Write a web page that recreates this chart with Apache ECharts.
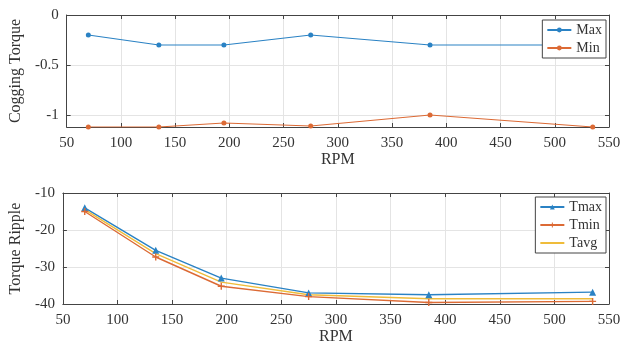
<!DOCTYPE html>
<html>
<head>
<meta charset="utf-8">
<script src="https://cdn.jsdelivr.net/npm/echarts@6/dist/echarts.min.js"></script>
<style>
  html, body { margin: 0; padding: 0; background: #fff; }
  #chart { width: 626px; height: 351px; }
</style>
</head>
<body>
<div id="chart"></div>
<script>
// RPM sample points (shared by both plots)
const rpm = [70, 135, 195, 275, 385, 535];

// cogging torque
const cogMax = [-0.2, -0.3, -0.3, -0.2, -0.3, -0.3];
const cogMin = [-1.12, -1.12, -1.08, -1.11, -1.0, -1.12];
const cogTicks = [-1, -0.5, 0];

// torque ripple
const tMax = [-14, -25.5, -33, -37, -37.5, -36.8];
const tMin = [-15, -27.3, -35.2, -38, -39.6, -39.3];
const tAvg = [-14.5, -26.4, -34.1, -37.5, -38.6, -38.6];

const font = 'Liberation Serif';
const ink = '#333';
const blue = '#2a82c4';
const orange = '#dc6a35';
const yellow = '#efbc3a';

const pairs = vals => vals.map((v, i) => [rpm[i], v]);
const plusPath = 'path://M4,0 L6,0 L6,4 L10,4 L10,6 L6,6 L6,10 L4,10 L4,6 L0,6 L0,4 L4,4 Z';

const grids = [
    { left: 61, right: 17, top: 15, height: 112 },
    { left: 61, right: 17, top: 193, height: 111 }
];

const xMain = gi => ({
    type: 'value', gridIndex: gi, min: 50, max: 550, interval: 50,
    name: 'RPM', nameLocation: 'middle', nameGap: 22,
    nameTextStyle: { fontFamily: font, fontSize: 16, color: ink },
    axisLine: { show: true, onZero: false, lineStyle: { color: '#444', width: 1 } },
    axisTick: { inside: true, length: 4, lineStyle: { color: '#444' } },
    axisLabel: { fontFamily: font, fontSize: 15, color: ink, margin: 9 },
    splitLine: { show: true, lineStyle: { color: '#e4e4e4' } }
});
const xTop = gi => ({
    type: 'value', gridIndex: gi, position: 'top', min: 50, max: 550, interval: 50,
    axisLine: { show: true, onZero: false, lineStyle: { color: '#444' } },
    axisTick: { inside: true, length: 4, lineStyle: { color: '#444' } },
    axisLabel: { show: false }, splitLine: { show: false }
});

const option = {
    animation: false,
    grid: grids,
    xAxis: [xMain(0), xTop(0), xMain(1), xTop(1)],
    yAxis: [
        {
            type: 'value', gridIndex: 0, min: -1.12, max: 0,
            name: 'Cogging Torque', nameLocation: 'middle', nameGap: 38,
            nameTextStyle: { fontFamily: font, fontSize: 16, color: ink },
            axisLine: { show: true, onZero: false, lineStyle: { color: '#444' } },
            axisTick: { inside: true, length: 4, customValues: cogTicks, lineStyle: { color: '#444' } },
            axisLabel: { fontFamily: font, fontSize: 15, color: ink, margin: 8, customValues: cogTicks },
            splitLine: { show: true, lineStyle: { color: '#e4e4e4' } }
        },
        {
            type: 'value', gridIndex: 0, position: 'right', min: -1.12, max: 0,
            axisLine: { show: true, onZero: false, lineStyle: { color: '#444' } },
            axisTick: { inside: true, length: 4, customValues: cogTicks, lineStyle: { color: '#444' } },
            axisLabel: { show: false, customValues: cogTicks }, splitLine: { show: false }
        },
        {
            type: 'value', gridIndex: 1, min: -40, max: -10, interval: 10,
            name: 'Torque Ripple', nameLocation: 'middle', nameGap: 38,
            nameTextStyle: { fontFamily: font, fontSize: 16, color: ink },
            axisLine: { show: true, onZero: false, lineStyle: { color: '#444' } },
            axisTick: { inside: true, length: 4, lineStyle: { color: '#444' } },
            axisLabel: { fontFamily: font, fontSize: 15, color: ink, margin: 8 },
            splitLine: { show: true, lineStyle: { color: '#e4e4e4' } }
        },
        {
            type: 'value', gridIndex: 1, position: 'right', min: -40, max: -10, interval: 10,
            axisLine: { show: true, onZero: false, lineStyle: { color: '#444' } },
            axisTick: { inside: true, length: 4, lineStyle: { color: '#444' } },
            axisLabel: { show: false }, splitLine: { show: false }
        }
    ],
    legend: [
        {
            data: ['Max', 'Min'], orient: 'vertical', right: 20, top: 20,
            itemWidth: 24, itemHeight: 6, itemGap: 4,
            padding: [3, 4, 3, 4], borderColor: '#444', borderWidth: 1, backgroundColor: '#fff',
            textStyle: { fontFamily: font, fontSize: 14, color: ink }
        },
        {
            data: ['Tmax', 'Tmin', { name: 'Tavg', itemStyle: { opacity: 0 } }],
            orient: 'vertical', right: 20, top: 197,
            itemWidth: 24, itemHeight: 6, itemGap: 4,
            padding: [3, 4, 3, 4], borderColor: '#444', borderWidth: 1, backgroundColor: '#fff',
            textStyle: { fontFamily: font, fontSize: 14, color: ink }
        }
    ],
    series: [
        {
            name: 'Max', type: 'line', xAxisIndex: 0, yAxisIndex: 0,
            data: pairs(cogMax), symbol: 'circle', symbolSize: 5,
            itemStyle: { color: blue }, lineStyle: { color: blue, width: 1.2 }
        },
        {
            name: 'Min', type: 'line', xAxisIndex: 0, yAxisIndex: 0,
            data: pairs(cogMin), symbol: 'circle', symbolSize: 5,
            itemStyle: { color: orange }, lineStyle: { color: orange, width: 1.2 }
        },
        {
            name: 'Tmax', type: 'line', xAxisIndex: 2, yAxisIndex: 2,
            data: pairs(tMax), symbol: 'triangle', symbolSize: 7,
            itemStyle: { color: blue }, lineStyle: { color: blue, width: 1.4 }
        },
        {
            name: 'Tmin', type: 'line', xAxisIndex: 2, yAxisIndex: 2,
            data: pairs(tMin), symbol: plusPath, symbolSize: 7,
            itemStyle: { color: orange }, lineStyle: { color: orange, width: 1.4 }
        },
        {
            name: 'Tavg', type: 'line', xAxisIndex: 2, yAxisIndex: 2,
            data: pairs(tAvg), symbol: 'none',
            itemStyle: { color: yellow }, lineStyle: { color: yellow, width: 1.4 }
        }
    ]
};

const myChart = echarts.init(document.getElementById('chart'));
myChart.setOption(option);
</script>
</body>
</html>
